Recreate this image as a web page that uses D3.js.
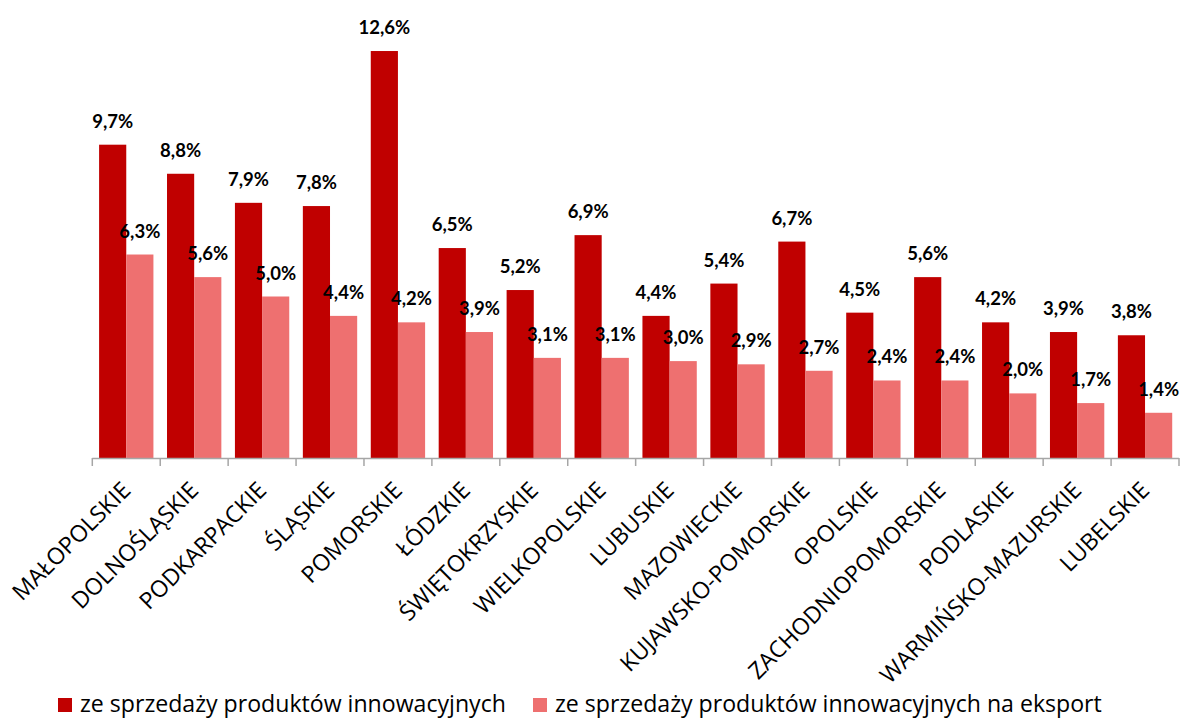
<!DOCTYPE html>
<html>
<head>
<meta charset="utf-8">
<script src="https://cdn.jsdelivr.net/npm/d3@7"></script>
<style>
  html, body { margin: 0; padding: 0; background: #fff; }
  svg { display: block; font-family: "Open Sans", Lato, sans-serif; }
</style>
</head>
<body>
<svg id="chart" width="1181" height="718"></svg>
<script>
const categories = ["MAŁOPOLSKIE","DOLNOŚLĄSKIE","PODKARPACKIE","ŚLĄSKIE","POMORSKIE","ŁÓDZKIE","ŚWIĘTOKRZYSKIE","WIELKOPOLSKIE","LUBUSKIE","MAZOWIECKIE","KUJAWSKO-POMORSKIE","OPOLSKIE","ZACHODNIOPOMORSKIE","PODLASKIE","WARMIŃSKO-MAZURSKIE","LUBELSKIE"];
const seriesNames = ["ze sprzedaży produktów innowacyjnych","ze sprzedaży produktów innowacyjnych na eksport"];
const salesInnov = [9.7, 8.8, 7.9, 7.8, 12.6, 6.5, 5.2, 6.9, 4.4, 5.4, 6.7, 4.5, 5.6, 4.2, 3.9, 3.8];
const salesExport = [6.3, 5.6, 5.0, 4.4, 4.2, 3.9, 3.1, 3.1, 3.0, 2.9, 2.7, 2.4, 2.4, 2.0, 1.7, 1.4];
const colors = ["#C00000", "#EE7070"];

const svg = d3.select("#chart");
const baseY = 458;
const x = d3.scaleBand().domain(categories).range([92.3, 1179]).paddingInner(0).paddingOuter(0);
const y = d3.scaleLinear().domain([0, 14]).range([baseY, baseY - 14 * 32.3]);
const xs = d3.scaleBand().domain([0, 1]).range([0, x.bandwidth()]).paddingInner(0).paddingOuter(0.25);

const fmt = v => v.toFixed(1).replace(".", ",") + "%";
const series = [salesInnov, salesExport];

// legend first, to calibrate text size
const legendX = [58, 533];
const leg = svg.append("g");
const legTexts = [];
seriesNames.forEach((name, i) => {
  leg.append("rect").attr("x", legendX[i]).attr("y", 698).attr("width", 14).attr("height", 14).attr("fill", colors[i]);
  legTexts.push(leg.append("text").attr("x", legendX[i] + 22).attr("y", 712).attr("font-size", 20).attr("fill", "#000").text(name));
});
const measured = legTexts[0].node().getComputedTextLength();
const fs = 20 * 426 / measured;
legTexts.forEach(t => t.attr("font-size", fs));

const g = svg.append("g");
series.forEach((vals, si) => {
  const grp = g.append("g");
  grp.selectAll("rect").data(vals).join("rect")
    .attr("x", (d, i) => x(categories[i]) + xs(si))
    .attr("width", xs.bandwidth())
    .attr("y", d => y(d))
    .attr("height", d => baseY - y(d))
    .attr("fill", colors[si]);
  grp.selectAll("text").data(vals).join("text")
    .attr("x", (d, i) => x(categories[i]) + xs(si) + xs.bandwidth() / 2)
    .attr("y", d => y(d) - 17)
    .attr("text-anchor", "middle")
    .attr("font-family", "Lato, sans-serif")
    .attr("font-weight", "bold")
    .attr("font-size", 18.5)
    .attr("fill", "#000")
    .text(d => fmt(d));
});

// axis
const axisG = svg.append("g");
axisG.append("line")
  .attr("x1", x.range()[0]).attr("x2", x.range()[1])
  .attr("y1", baseY + 0.5).attr("y2", baseY + 0.5)
  .attr("stroke", "#A6A6A6").attr("stroke-width", 1.5);
const tickPos = categories.map(c => x(c)).concat([x.range()[1]]);
axisG.selectAll("line.tick").data(tickPos).join("line")
  .attr("class", "tick")
  .attr("x1", d => d).attr("x2", d => d)
  .attr("y1", baseY).attr("y2", baseY + 8)
  .attr("stroke", "#A6A6A6").attr("stroke-width", 1.5);

axisG.selectAll("text.cat").data(categories).join("text")
  .attr("class", "cat")
  .attr("transform", d => `translate(${x(d) + x.bandwidth() / 2},${baseY + 28}) rotate(-45)`)
  .attr("text-anchor", "end")
  .attr("dy", "0.35em")
  .attr("font-size", fs)
  .attr("fill", "#000")
  .text(d => d);
</script>
</body>
</html>
